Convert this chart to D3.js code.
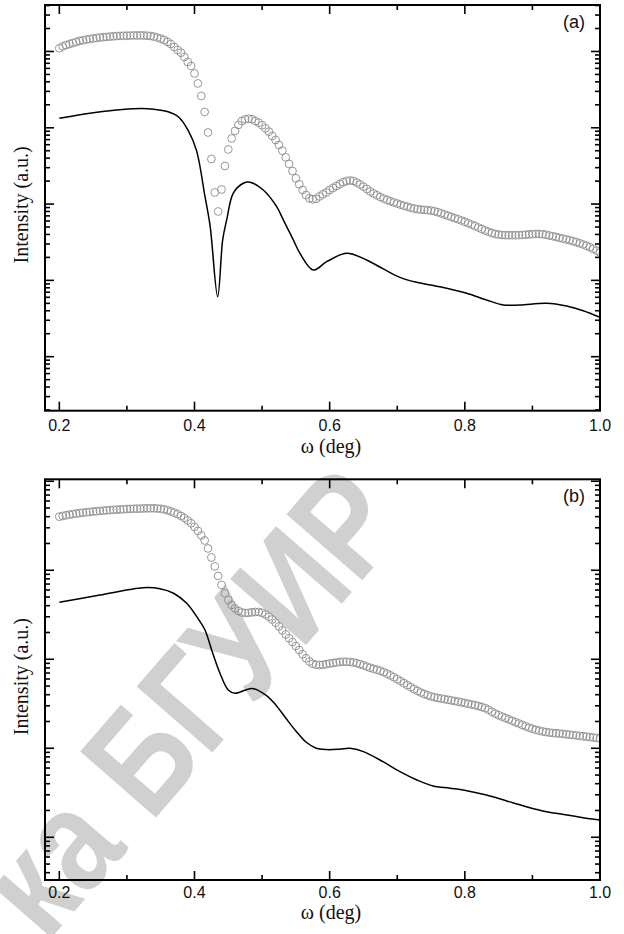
<!DOCTYPE html>
<html>
<head>
<meta charset="utf-8">
<script src="https://cdn.jsdelivr.net/npm/d3@7"></script>
<style>
  body { margin: 0; background: #fff; }
  svg { display: block; }
</style>
</head>
<body>
<svg width="624" height="934"></svg>
<script>
const svg = d3.select("svg");

// angular scan grid of the measured curves (deg)
const scanStart = 0.2;
const scanStep = 0.005;

// measured curves, lg(I), one value per scan point (open circles)
const measuredA = [
  4.042,4.066,4.083,4.098,4.111,4.125,4.138,4.147,4.156,4.164,
  4.170,4.177,4.182,4.187,4.191,4.195,4.199,4.202,4.204,4.206,
  4.207,4.208,4.210,4.210,4.210,4.210,4.207,4.203,4.195,4.182,
  4.168,4.151,4.125,4.098,4.059,4.020,3.984,3.928,3.862,3.810,
  3.712,3.581,3.417,3.207,2.938,2.591,2.152,1.903,2.191,2.499,
  2.716,2.860,2.958,3.037,3.089,3.111,3.119,3.111,3.089,3.067,
  3.033,2.993,2.949,2.893,2.840,2.775,2.700,2.613,2.526,2.434,
  2.338,2.260,2.185,2.119,2.076,2.063,2.069,2.100,2.128,2.152,
  2.185,2.211,2.237,2.263,2.286,2.303,2.309,2.303,2.283,2.257,
  2.228,2.198,2.165,2.139,2.115,2.093,2.072,2.054,2.037,2.021,
  2.007,1.992,1.978,1.965,1.952,1.941,1.933,1.928,1.924,1.920,
  1.915,1.906,1.894,1.879,1.864,1.847,1.831,1.815,1.801,1.785,
  1.768,1.750,1.731,1.713,1.693,1.674,1.654,1.637,1.621,1.608,
  1.600,1.595,1.592,1.592,1.592,1.592,1.593,1.595,1.598,1.602,
  1.606,1.608,1.608,1.606,1.598,1.588,1.579,1.569,1.558,1.548,
  1.537,1.526,1.514,1.501,1.486,1.471,1.454,1.434,1.412,1.389,
  1.366
];

const measuredB = [
  3.602,3.610,3.618,3.625,3.631,3.637,3.643,3.647,3.652,3.655,
  3.660,3.663,3.666,3.670,3.673,3.676,3.679,3.681,3.683,3.685,
  3.688,3.690,3.691,3.692,3.693,3.694,3.696,3.696,3.696,3.694,
  3.691,3.684,3.674,3.661,3.646,3.630,3.610,3.588,3.560,3.528,
  3.487,3.442,3.391,3.335,3.245,3.144,3.043,2.936,2.835,2.742,
  2.666,2.610,2.571,2.543,2.526,2.520,2.522,2.528,2.531,2.531,
  2.522,2.503,2.478,2.447,2.410,2.369,2.324,2.279,2.236,2.194,
  2.149,2.104,2.056,2.011,1.975,1.949,1.938,1.936,1.939,1.945,
  1.952,1.958,1.964,1.970,1.972,1.972,1.970,1.964,1.956,1.945,
  1.931,1.917,1.904,1.893,1.882,1.870,1.855,1.838,1.819,1.799,
  1.776,1.754,1.731,1.709,1.687,1.664,1.644,1.626,1.610,1.596,
  1.583,1.573,1.565,1.558,1.552,1.545,1.538,1.531,1.524,1.516,
  1.508,1.500,1.492,1.484,1.475,1.464,1.451,1.433,1.410,1.390,
  1.372,1.356,1.340,1.325,1.309,1.293,1.278,1.262,1.246,1.231,
  1.219,1.208,1.198,1.189,1.182,1.176,1.172,1.169,1.165,1.162,
  1.157,1.153,1.148,1.144,1.139,1.135,1.130,1.126,1.121,1.116,
  1.111
];

// simulated curves (solid line): angle (deg) and lg(I)
const simOmegaA = [0.200,0.253,0.322,0.342,0.361,0.376,0.391,0.403,0.4155,0.423,
  0.4343,0.4417,0.4476,0.4574,0.4722,0.4821,0.5018,0.5216,0.5314,0.5462,
  0.556,0.5757,0.5956,0.6251,0.6547,0.6793,0.704,0.7287,0.7632,0.8027,
  0.8322,0.8568,0.8815,0.921,0.9506,0.9751,1.0];
const simA = [3.124,3.201,3.253,3.240,3.211,3.145,2.960,2.700,2.100,1.720,
  0.786,1.529,1.792,2.142,2.273,2.286,2.185,1.966,1.792,1.530,
  1.355,1.136,1.245,1.355,1.267,1.150,1.040,0.975,0.917,0.831,
  0.743,0.678,0.678,0.700,0.664,0.603,0.516];

const simOmegaB = [0.200,0.260,0.324,0.349,0.369,0.3885,0.4033,0.4155,0.4254,0.4377,
  0.450,0.460,0.485,0.505,0.520,0.535,0.550,0.565,0.580,0.595,
  0.615,0.630,0.650,0.679,0.704,0.729,0.753,0.778,0.803,0.832,
  0.862,0.891,0.921,0.951,0.980,1.000];
const simB = [2.640,2.722,2.804,2.793,2.742,2.629,2.479,2.329,2.104,1.843,
  1.655,1.618,1.672,1.600,1.490,1.340,1.195,1.070,1.000,0.985,
  0.990,1.000,0.962,0.849,0.737,0.644,0.576,0.551,0.524,0.475,
  0.408,0.344,0.288,0.251,0.213,0.194];

const panelLabels = ["(a)", "(b)"];
const xLabel = "ω (deg)";
const yLabel = "Intensity (a.u.)";

const left = 45, right = 600;
const sans = "'Liberation Sans', Arial, sans-serif";
const serif = "'Liberation Serif', 'Times New Roman', serif";

const panels = [
  { top: 5, bottom: 410.7, lgMin: -0.708, lgMax: 4.609, meas: measuredA, simX: simOmegaA, simY: simA, label: panelLabels[0], lab: 20, title: 42 },
  { top: 479.3, bottom: 880, lgMin: -0.48, lgMax: 4.022, meas: measuredB, simX: simOmegaB, simY: simB, label: panelLabels[1], lab: 18, title: 39 }
];

// watermark
svg.append("text")
  .attr("transform", "translate(46,944) rotate(-49) scale(0.82,1)")
  .attr("font-family", sans)
  .attr("font-weight", "bold")
  .attr("font-size", 146)
  .attr("fill", "#d0d0d0")
  .text("ка БГУИР");

const x = d3.scaleLinear().domain([0.1788, 1.0]).range([left, right]);

panels.forEach((p, k) => {
  const y = d3.scaleLog()
    .domain([Math.pow(10, p.lgMin), Math.pow(10, p.lgMax)])
    .range([p.bottom, p.top]);

  const g = svg.append("g");

  const clipId = "clip" + k;
  svg.append("clipPath").attr("id", clipId)
    .append("rect")
    .attr("x", left).attr("y", p.top)
    .attr("width", right - left).attr("height", p.bottom - p.top);

  const pts = p.meas.map((v, i) => ({ w: scanStart + i * scanStep, v: v }));

  g.append("g")
    .attr("clip-path", `url(#${clipId})`)
    .selectAll("circle")
    .data(pts)
    .enter()
    .append("circle")
    .attr("cx", d => x(d.w))
    .attr("cy", d => y(Math.pow(10, d.v)))
    .attr("r", 3.9)
    .attr("fill", "none")
    .attr("stroke", "#8c8c8c")
    .attr("stroke-width", 0.9);

  const sim = p.simX.map((w, i) => ({ w: w, v: p.simY[i] }));
  const line = d3.line()
    .x(d => x(d.w))
    .y(d => y(Math.pow(10, d.v)))
    .curve(d3.curveCatmullRom.alpha(0.5));

  g.append("path")
    .datum(sim)
    .attr("d", line)
    .attr("fill", "none")
    .attr("stroke", "#000")
    .attr("stroke-width", 1.5);

  // ticks, inward on all four sides
  const xt = x.ticks(10).filter(v => v >= 0.19);
  xt.forEach(v => {
    const major = Math.round(v * 10) % 2 === 0;
    const len = major ? 9 : 5;
    g.append("line").attr("x1", x(v)).attr("x2", x(v))
      .attr("y1", p.bottom).attr("y2", p.bottom - len);
    g.append("line").attr("x1", x(v)).attr("x2", x(v))
      .attr("y1", p.top).attr("y2", p.top + len);
    if (major) {
      g.append("text")
        .attr("x", x(v))
        .attr("y", p.bottom + p.lab)
        .attr("text-anchor", "middle")
        .attr("font-family", sans)
        .attr("font-size", 16)
        .attr("fill", "#111")
        .text(d3.format(".1f")(v));
    }
  });

  const yt = y.ticks();
  yt.forEach(v => {
    const l = Math.log10(v);
    const major = Math.abs(l - Math.round(l)) < 1e-6;
    const len = major ? 9 : 5;
    g.append("line").attr("x1", left).attr("x2", left + len)
      .attr("y1", y(v)).attr("y2", y(v));
    g.append("line").attr("x1", right).attr("x2", right - len)
      .attr("y1", y(v)).attr("y2", y(v));
  });

  g.selectAll("line")
    .attr("stroke", "#000")
    .attr("stroke-width", 1.6);

  g.append("rect")
    .attr("x", left).attr("y", p.top)
    .attr("width", right - left).attr("height", p.bottom - p.top)
    .attr("fill", "none")
    .attr("stroke", "#000")
    .attr("stroke-width", 2);

  g.append("text")
    .attr("x", 331)
    .attr("y", p.bottom + p.title)
    .attr("text-anchor", "middle")
    .attr("font-family", serif)
    .attr("font-size", 20)
    .attr("fill", "#111")
    .text(xLabel);

  g.append("text")
    .attr("transform", `translate(28,${(p.top + p.bottom) / 2 - 3}) rotate(-90)`)
    .attr("text-anchor", "middle")
    .attr("font-family", serif)
    .attr("font-size", 20)
    .attr("fill", "#111")
    .text(yLabel);

  g.append("text")
    .attr("x", 585)
    .attr("y", p.top + 23)
    .attr("text-anchor", "end")
    .attr("font-family", sans)
    .attr("font-size", 18)
    .attr("fill", "#111")
    .text(p.label);
});
</script>
</body>
</html>
